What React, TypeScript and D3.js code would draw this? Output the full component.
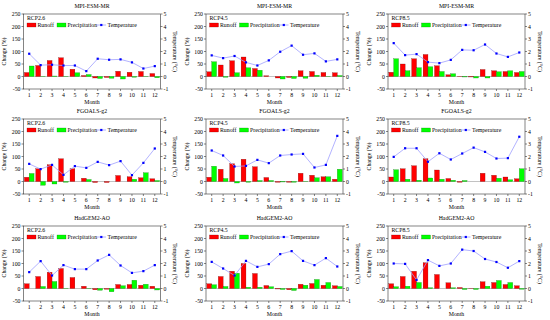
import React from 'react';
import * as d3 from 'd3';

const months = ['1', '2', '3', '4', '5', '6', '7', '8', '9', '10', '11', '12'];
const models = ['MPI-ESM-MR', 'FGOALS-g2', 'HadGEM2-AO'];
const scenarios = ['RCP2.6', 'RCP4.5', 'RCP8.5'];
const leftTicks = [-50, 0, 50, 100, 150, 200, 250];
const rightTicks = [-1, 0, 1, 2, 3, 4, 5];

// runoff change (%), one row per scenario
const mpiRunoff = [
  [16, 44, 64, 75, 29, 4, -6, -4, 21, 17, 20, 12],
  [19, 46, 63, 78, 32, 3, -6, -4, 23, 20, 16, 15],
  [17, 50, 71, 88, 43, 7, -1, -2, 28, 23, 20, 16],
];
const fgoalsRunoff = [
  [17, 51, 67, 91, 51, 13, -4, -4, 24, 19, 15, 11],
  [17, 49, 71, 89, 59, 16, -3, -3, 33, 25, 19, 9],
  [18, 51, 63, 91, 46, 12, -3, 0, 33, 25, 18, 11],
];
const hadgemRunoff = [
  [19, 48, 65, 80, 44, 9, -5, -3, 16, 16, 13, 9],
  [19, 48, 69, 100, 60, 12, -2, -5, 17, 20, 13, 11],
  [19, 48, 69, 103, 56, 23, 4, -1, 27, 24, 16, 11],
];

// precipitation change (%)
const mpiPrecip = [
  [42, 1, 2, 1, 15, 8, -8, -7, -10, -3, 1, -5],
  [59, -3, 15, 35, 25, 0, -10, -8, -7, 5, 1, 4],
  [71, 23, 35, 39, 20, 11, -2, -6, -6, 19, 23, 20],
];
const fgoalsPrecip = [
  [32, -15, -10, -3, 0, 8, 0, 0, 0, 9, 35, 4],
  [61, 12, -6, -3, 4, 4, -2, -3, 1, 15, 19, 49],
  [47, 9, 5, 14, 9, 5, 4, 0, 0, 13, 7, 51],
];
const hadgemPrecip = [
  [0, 8, 28, 1, 0, 1, -7, -13, 11, 33, 17, -6],
  [15, 8, 61, 5, 5, 7, -4, -8, 13, 36, 24, 8],
  [7, 9, 24, 3, 0, 3, -4, -4, 9, 32, 24, -3],
];

// temperature change (°C)
const mpiTemp = [
  [1.82, 0.91, 0.94, 0.88, 0.88, 0.43, 1.42, 1.34, 1.37, 1.13, 0.64, 0.83],
  [1.69, 1.47, 1.64, 1.13, 0.88, 1.29, 1.98, 2.47, 1.74, 1.85, 1.21, 1.37],
  [2.67, 1.71, 1.79, 1.15, 1.07, 1.33, 2.13, 2.1, 2.56, 1.84, 1.57, 1.92],
];
const fgoalsTemp = [
  [1.41, 0.99, 1.33, 0.53, 1.23, 1.09, 1.57, 1.31, 1.63, 0.51, 1.49, 2.64],
  [2.48, 2.08, 1.2, 1.25, 1.73, 1.47, 2.08, 2.16, 2.21, 1.12, 1.33, 3.65],
  [1.97, 2.66, 2.66, 1.58, 2.26, 1.76, 2.24, 2.71, 2.37, 1.84, 1.87, 3.58],
];
const hadgemTemp = [
  [1.31, 2.19, 1.04, 1.87, 1.55, 1.55, 2.24, 2.69, 1.84, 1.25, 1.39, 1.87],
  [2.13, 1.6, 1.04, 2.21, 1.73, 1.95, 2.75, 2.99, 2.21, 1.87, 2.43, 1.76],
  [2.0, 1.97, 0.68, 2.27, 1.81, 2.0, 3.11, 3.0, 2.36, 2.12, 1.66, 2.19],
];

const runoffByModel = [mpiRunoff, fgoalsRunoff, hadgemRunoff];
const precipByModel = [mpiPrecip, fgoalsPrecip, hadgemPrecip];
const tempByModel = [mpiTemp, fgoalsTemp, hadgemTemp];

const colX = [0, 182.5, 364.5];
const rowY = [0, 105, 212];
const FONT = '"Liberation Serif", "Times New Roman", serif';
const FS = 5.8;
const AXIS = '#333';

type PanelProps = {
  x0: number;
  y0: number;
  title: string;
  scenario: string;
  runoff: number[];
  precip: number[];
  temp: number[];
};

const Panel = ({ x0, y0, title, scenario, runoff, precip, temp }: PanelProps) => {
  const left = x0 + 23.5;
  const right = x0 + 160.5;
  const top = y0 + 14;
  const bottom = y0 + 89;

  const x = d3.scaleBand<string>().domain(months).range([left, right])
    .paddingInner(0.15).paddingOuter(0.075);
  const y = d3.scaleLinear().domain([-50, 250]).range([bottom, top]);
  const yT = d3.scaleLinear().domain([-1, 5]).range([bottom, top]);
  const bw = x.bandwidth() / 2;

  const line = d3.line<number>()
    .x((_, i) => (x(months[i]) as number) + x.bandwidth() / 2)
    .y(d => yT(d));

  const bar = (v: number) => ({ y: Math.min(y(v), y(0)), h: Math.abs(y(v) - y(0)) });

  return (
    <g fontFamily={FONT} fontSize={FS} fill="#000">
      <text x={(left + right) / 2} y={y0 + 8} textAnchor="middle">{title}</text>

      {/* frame + zero line */}
      <rect x={left} y={top} width={right - left} height={bottom - top} fill="none" stroke={AXIS} strokeWidth={0.6} />
      <line x1={left} x2={right} y1={y(0)} y2={y(0)} stroke="#666" strokeWidth={0.4} />

      {/* bars */}
      {runoff.map((v, i) => {
        const b = bar(v);
        return <rect key={'r' + i} x={x(months[i])} y={b.y} width={bw} height={b.h}
          fill="#ff0000" stroke="#600" strokeWidth={0.25} />;
      })}
      {precip.map((v, i) => {
        const b = bar(v);
        return <rect key={'p' + i} x={(x(months[i]) as number) + bw} y={b.y} width={bw} height={b.h}
          fill="#00ff00" stroke="#060" strokeWidth={0.25} />;
      })}

      {/* temperature */}
      <path d={line(temp) || ''} fill="none" stroke="#a0a0ff" strokeWidth={0.8} />
      {temp.map((v, i) => (
        <rect key={'t' + i} x={(x(months[i]) as number) + x.bandwidth() / 2 - 1.1} y={yT(v) - 1.1}
          width={2.2} height={2.2} fill="#0000ff" />
      ))}

      {/* left axis */}
      {leftTicks.map(t => (
        <g key={'l' + t}>
          <line x1={left - 2} x2={left} y1={y(t)} y2={y(t)} stroke={AXIS} strokeWidth={0.6} />
          <text x={left - 3} y={y(t) + 2} textAnchor="end">{t}</text>
        </g>
      ))}
      {/* right axis */}
      {rightTicks.map(t => (
        <g key={'rt' + t}>
          <line x1={right} x2={right + 2} y1={yT(t)} y2={yT(t)} stroke={AXIS} strokeWidth={0.6} />
          <text x={right + 3} y={yT(t) + 2} textAnchor="start">{t}</text>
        </g>
      ))}
      {/* bottom axis */}
      {months.map(m => {
        const cx = (x(m) as number) + x.bandwidth() / 2;
        return (
          <g key={'m' + m}>
            <line x1={cx} x2={cx} y1={bottom} y2={bottom + 2} stroke={AXIS} strokeWidth={0.6} />
            <text x={cx} y={bottom + 7.5} textAnchor="middle">{m}</text>
          </g>
        );
      })}
      <text x={(left + right) / 2} y={bottom + 15} textAnchor="middle">Month</text>
      <text transform={`translate(${x0 + 6},${(top + bottom) / 2}) rotate(-90)`} textAnchor="middle">Change (%)</text>
      <text transform={`translate(${x0 + 173},${(top + bottom) / 2}) rotate(90)`} textAnchor="middle">Temperature (°C)</text>

      {/* legend */}
      <text x={left + 3.5} y={top + 6}>{scenario}</text>
      <rect x={left + 3.5} y={top + 9} width={9} height={4} fill="#ff0000" stroke="#600" strokeWidth={0.25} />
      <text x={left + 14} y={top + 13}>Runoff</text>
      <rect x={left + 33.5} y={top + 9} width={9} height={4} fill="#00ff00" stroke="#060" strokeWidth={0.25} />
      <text x={left + 44} y={top + 13}>Precipitation</text>
      <line x1={left + 73} x2={left + 82.5} y1={top + 11} y2={top + 11} stroke="#a0a0ff" strokeWidth={0.8} />
      <rect x={left + 76.7} y={top + 9.9} width={2.2} height={2.2} fill="#0000ff" />
      <text x={left + 84} y={top + 13}>Temperature</text>
    </g>
  );
};

const App = () => (
  <svg width={550} height={320} style={{ position: 'absolute', left: 0, top: 0, background: '#fff' }}>
    {models.map((m, r) =>
      scenarios.map((s, c) => (
        <Panel key={m + s} x0={colX[c]} y0={rowY[r]} title={m} scenario={s}
          runoff={runoffByModel[r][c]} precip={precipByModel[r][c]} temp={tempByModel[r][c]} />
      ))
    )}
  </svg>
);

export default App;
